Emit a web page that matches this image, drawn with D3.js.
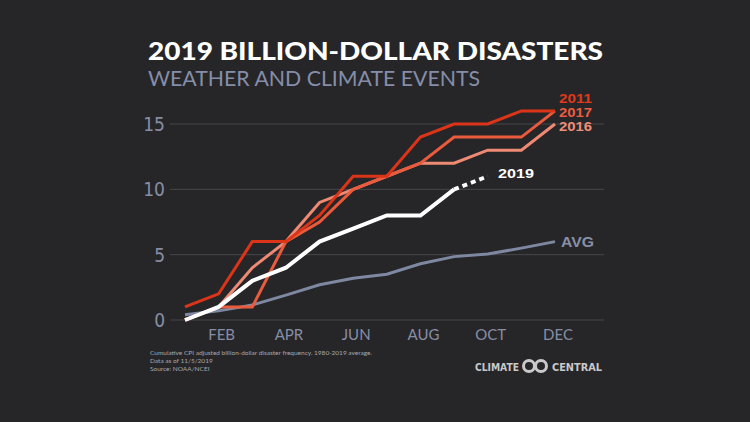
<!DOCTYPE html>
<html><head><meta charset="utf-8">
<script src="https://cdn.jsdelivr.net/npm/d3@7"></script>
<style>
html,body{margin:0;padding:0;background:#262628;}
svg{display:block;}
</style></head>
<body>
<script>
const months = ["JAN","FEB","MAR","APR","MAY","JUN","JUL","AUG","SEP","OCT","NOV","DEC"];
const xTickLabels = ["FEB","APR","JUN","AUG","OCT","DEC"];
const yTicks = [0,5,10,15];
const y2011 = [1,2,6,6,8,11,11,14,15,15,16,16];
const y2017 = [0,1,1,6,7.5,10,11,12,14,14,14,16];
const y2016 = [0,1,4,6,9,10,11,12,12,13,13,15];
const y2019 = [0,1,3,4,6,7,8,8,10];
const y2019proj = [10,11]; // Sep -> Oct (dashed)
const yAvg = [0.4,0.7,1.15,1.9,2.7,3.2,3.5,4.3,4.85,5.05,5.5,6.0];

const W=750,H=422;
const svg=d3.select("body").append("svg").attr("width",W).attr("height",H);
svg.append("rect").attr("width",W).attr("height",H).attr("fill","#262628");

const x=d3.scaleLinear().domain([0,11]).range([185,555]);
const y=d3.scaleLinear().domain([0,15]).range([320,124]);

// gridlines
svg.append("g").selectAll("line").data(yTicks).join("line")
  .attr("x1",170).attr("x2",604).attr("y1",d=>y(d)).attr("y2",d=>y(d))
  .attr("stroke","#47474b").attr("stroke-width",1);

// y labels
svg.append("g").selectAll("text").data(yTicks).join("text")
  .attr("x",165).attr("y",d=>y(d)+7).attr("text-anchor","end")
  .attr("font-family","'Liberation Sans Narrow','DejaVu Sans Condensed',sans-serif")
  .attr("font-size",19).attr("fill","#868ea6").text(d=>d);

// x labels
svg.append("g").selectAll("text").data(xTickLabels).join("text")
  .attr("x",d=>x(months.indexOf(d))+3).attr("y",340).attr("text-anchor","middle")
  .attr("font-family","Lato,sans-serif").attr("font-size",15).attr("fill","#868ea6")
  .text(d=>d);

function draw(data,color,w,offset=0,dash=null){
  const l=d3.line().x((d,i)=>x(i+offset)).y(d=>y(d));
  const p=svg.append("path").datum(data).attr("d",l).attr("fill","none")
    .attr("stroke",color).attr("stroke-width",w).attr("stroke-linejoin","miter");
  if(dash) p.attr("stroke-dasharray",dash);
}
draw(yAvg,"#7e88a0",3);
draw(y2016,"#ee8a74",3);
draw(y2017,"#ea5a3c",3);
draw(y2011,"#dc3418",3);
draw(y2019,"#ffffff",4);
draw(y2019proj,"#ffffff",4,8,"5,4");

// series labels
const lab=(t,xx,yy,c,fs)=>svg.append("text").attr("x",xx).attr("y",yy)
  .attr("font-family","'Liberation Sans',sans-serif").attr("font-weight","bold")
  .attr("font-size",fs).attr("fill",c).text(t);
lab("2011",559,103,"#e0391c",12.5).attr("textLength",33).attr("lengthAdjust","spacingAndGlyphs");
lab("2017",559,117,"#ec5d40",12.5).attr("textLength",33).attr("lengthAdjust","spacingAndGlyphs");
lab("2016",559,131,"#f08e78",12.5).attr("textLength",33).attr("lengthAdjust","spacingAndGlyphs");
lab("2019",498,178,"#ffffff",13.5).attr("textLength",36).attr("lengthAdjust","spacingAndGlyphs");
lab("AVG",561,247,"#8890a8",15).attr("textLength",33).attr("lengthAdjust","spacingAndGlyphs");

// title
svg.append("text").attr("x",148).attr("y",59.5)
  .attr("font-family","Lato,sans-serif").attr("font-weight",900)
  .attr("font-size",25).attr("fill","#ffffff")
  .attr("textLength",455).attr("lengthAdjust","spacingAndGlyphs")
  .text("2019 BILLION-DOLLAR DISASTERS");
svg.append("text").attr("x",148).attr("y",85.5)
  .attr("font-family","Lato,sans-serif").attr("font-size",20.5).attr("fill","#858ea9")
  .attr("textLength",332).attr("lengthAdjust","spacingAndGlyphs")
  .text("WEATHER AND CLIMATE EVENTS");

// footnotes
const notes=["Cumulative CPI adjusted billion-dollar disaster frequency. 1980-2019 average.","Data as of 11/5/2019","Source: NOAA/NCEI"];
svg.append("g").selectAll("text").data(notes).join("text")
  .attr("x",150).attr("y",(d,i)=>355+i*8).attr("font-family","Lato,sans-serif")
  .attr("font-size",6.5).attr("fill","#a8a8ac").text(d=>d);

// logo
const lc="#c9c9cb";
svg.append("text").attr("x",475).attr("y",370.5).attr("font-family","'DejaVu Sans',sans-serif")
  .attr("font-weight","bold").attr("font-size",10.5).attr("fill",lc)
  .attr("textLength",44).attr("lengthAdjust","spacingAndGlyphs").text("CLIMATE");
svg.append("text").attr("x",552).attr("y",370.5).attr("font-family","'DejaVu Sans',sans-serif")
  .attr("font-weight","bold").attr("font-size",10.5).attr("fill",lc)
  .attr("textLength",50).attr("lengthAdjust","spacingAndGlyphs").text("CENTRAL");
[529,541].forEach(cx=>svg.append("circle").attr("cx",cx).attr("cy",366).attr("r",5.5)
  .attr("fill","none").attr("stroke",lc).attr("stroke-width",3));
</script>
</body></html>
